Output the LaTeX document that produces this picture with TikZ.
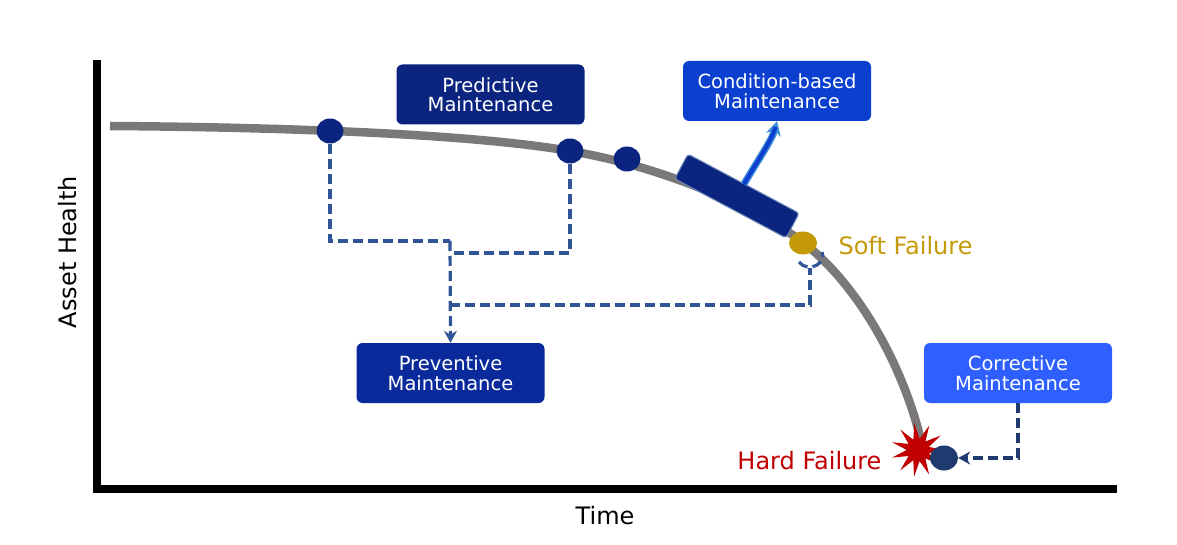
\documentclass[tikz,border=0pt]{standalone}
\usepackage{fontspec}
\setmainfont{DejaVu Sans}
\usetikzlibrary{shapes.geometric,arrows.meta}
\definecolor{curvegray}{HTML}{7A7878}
\definecolor{navy}{HTML}{0A2480}
\definecolor{dashblue}{HTML}{2F5597}
\definecolor{gold}{HTML}{C59A08}
\definecolor{hardred}{HTML}{C00000}
\definecolor{cbmblue}{HTML}{0B3FCF}
\definecolor{prevblue}{HTML}{0A2A9C}
\definecolor{corrblue}{HTML}{2F60FF}
\definecolor{dotnavy}{HTML}{1F3A6E}
\definecolor{arrowlight}{HTML}{3A8AD8}
\tikzset{
  mbox/.style={rounded corners=6pt, minimum width=188pt, minimum height=60pt, text=white, align=center, font=\fontsize{19.5}{19.5}\selectfont, inner sep=0pt},
  dot/.style={ellipse, fill=navy, minimum width=27pt, minimum height=25pt, inner sep=0pt},
  dashline/.style={draw=dashblue, line width=3.2pt, dash pattern=on 10pt off 5pt},
  biglabel/.style={font=\fontsize{24}{26}\selectfont},
}
\begin{document}
\begin{tikzpicture}[x=1pt,y=-1pt]
\useasboundingbox (0,0) rectangle (1177,545);
% axes
\draw[line width=8pt] (97,60) -- (97,489) -- (1117,489);
\node[rotate=90, biglabel] (yl) at (68,252) {Asset Health};
\node[biglabel] (xl) at (605,516) {Time};
% curve
\draw[curvegray, line width=8.5pt] (110,126) .. controls (250,127) and (460,132) .. (570,151) .. controls (660,166) and (750,205) .. (800,240) .. controls (860,285) and (905,370) .. (922,445);
% condition bar
\node[rotate=-28, fill=navy, draw=dashblue!70, line width=1pt, rounded corners=3pt, minimum width=126pt, minimum height=28pt] (bar) at (737,196) {};
% dots
\node[dot] (d1) at (330,131) {};
\node[dot] (d2) at (570,151) {};
\node[dot] (d3) at (627,159) {};
\node[ellipse, fill=gold, minimum width=28pt, minimum height=23pt, inner sep=0pt] (soft) at (803,243) {};
\node[anchor=west, text=gold, biglabel] (softl) at (835,246) {Soft Failure};
% boxes
\node[mbox, fill=navy] (pred) at (490.5,94.5) {Predictive\\Maintenance};
\node[mbox, fill=cbmblue] (cbm) at (777,91) {Condition-based\\Maintenance};
\node[mbox, fill=prevblue] (prev) at (450.5,373) {Preventive\\Maintenance};
\node[mbox, fill=corrblue] (corr) at (1018,373) {Corrective\\Maintenance};
% hard failure
\node[star, star points=11, star point ratio=2.4, fill=hardred, minimum size=54pt, inner sep=0pt, rotate=8] (hard) at (918,450) {};
\node[ellipse, fill=dotnavy, minimum width=28pt, minimum height=25pt, inner sep=0pt] (hdot) at (944,458) {};
\node[anchor=east, text=hardred, biglabel] (hardl) at (885,461) {Hard Failure};
% dashed connectors
\coordinate (j1) at (450,241);
\coordinate (j2) at (450,305);
\draw[dashline] (d1.south) |- (j1);
\draw[dashline] (d2.south) |- (452,253);
\draw[dashline, -{Stealth[length=12pt,width=13pt]}] (j1) -- (prev.north);
\draw[dashline] (j2) -| (810,268);
\draw[dashline] (799,262) arc[start angle=215, end angle=375, x radius=13pt, y radius=12pt];
\draw[dashline, draw=dotnavy, -{Stealth[length=12pt,width=13pt]}] (corr.south) |- (hdot.east);
% cbm arrow
\draw[line width=7pt, arrowlight, -{Stealth[length=14pt,width=15pt]}] (744,184) .. controls (758,160) and (772,140) .. (cbm.south);
\draw[line width=4pt, cbmblue, shorten >=6pt] (744,184) .. controls (758,160) and (772,140) .. (cbm.south);
\end{tikzpicture}
\end{document}
